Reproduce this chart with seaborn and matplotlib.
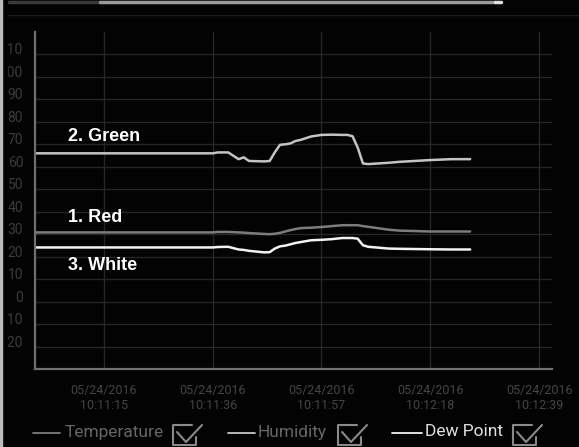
import matplotlib
matplotlib.use("Agg")
import matplotlib.pyplot as plt
import matplotlib.dates as mdates
import matplotlib.transforms as mtransforms
from matplotlib.lines import Line2D
import pandas as pd
import seaborn as sns

# data
day = "2016-05-24 "
times = ["10:11:01.7", "10:11:36", "10:11:37", "10:11:39", "10:11:41", "10:11:42",
         "10:11:43", "10:11:46", "10:11:47", "10:11:48", "10:11:49", "10:11:50",
         "10:11:51", "10:11:52", "10:11:53", "10:11:55", "10:11:57", "10:11:59",
         "10:12:01", "10:12:02", "10:12:03", "10:12:04", "10:12:05", "10:12:06",
         "10:12:10", "10:12:12", "10:12:18", "10:12:22", "10:12:25.7"]
temperature = [30.8, 30.8, 31.0, 31.0, 30.8, 30.7, 30.5, 30.1, 30.0, 30.2, 30.6, 31.2,
               31.8, 32.3, 32.7, 32.9, 33.2, 33.6, 34.0, 34.0, 34.0, 34.0, 33.6, 33.3,
               32.0, 31.6, 31.2, 31.2, 31.2]
humidity = [66, 66, 66.4, 66.4, 63.4, 64.2, 62.6, 62.4, 62.6, 66.5, 69.8, 70,
            70.4, 71.5, 72, 73.5, 74.2, 74.3, 74.2, 74.2, 73.6, 68.5, 61.5, 61.2,
            61.8, 62.2, 63, 63.4, 63.4]
dew_point = [24.1, 24.1, 24.3, 24.4, 23.2, 23.0, 22.6, 21.9, 22.0, 23.6, 24.6, 24.9,
             25.5, 26.1, 26.5, 27.3, 27.5, 27.8, 28.3, 28.3, 28.3, 28.0, 25.1, 24.4,
             23.6, 23.5, 23.3, 23.2, 23.2]
series_names = ["Temperature", "Humidity", "Dew Point"]
series_colors = ["#7c7c7c", "#c4c4c4", "#f2f2f2"]
legend_text_colors = ["#666666", "#666666", "#e0e0e0"]
annotations = ["1. Red", "2. Green", "3. White"]
annotation_y = [37.4, 73.6, 15.9]
tick_times = ["10:11:15", "10:11:36", "10:11:57", "10:12:18", "10:12:39"]
x_range = ["10:11:01.7", "10:12:41.5"]
y_ticks = list(range(-20, 120, 10))


def to_dt(ts):
    return pd.to_datetime([day + t for t in ts], format="mixed")


df = pd.DataFrame({"time": to_dt(times),
                   "Temperature": temperature,
                   "Humidity": humidity,
                   "Dew Point": dew_point})
long_df = df.melt(id_vars="time", var_name="series", value_name="value")

sns.set_theme(style="dark")
plt.rcParams["font.family"] = ["Roboto", "DejaVu Sans"]

W, H = 579, 447
fig = plt.figure(figsize=(W / 100, H / 100), dpi=100, facecolor="#030303")
ax = fig.add_axes([35 / W, 1 - 369 / H, (552 - 35) / W, (369 - 32) / H])
ax.set_facecolor("#030303")

sns.lineplot(data=long_df, x="time", y="value", hue="series", hue_order=series_names,
             palette=dict(zip(series_names, series_colors)), linewidth=1.8,
             legend=False, ax=ax)

xr = to_dt(x_range)
ax.set_xlim(xr[0], xr[1])
ax.set_ylim(-30, 120)
ax.set_xticks(to_dt(tick_times))
ax.xaxis.set_major_formatter(mdates.DateFormatter("%m/%d/%Y\n%H:%M:%S"))
ax.set_yticks(y_ticks)
ax.set_xlabel("")
ax.set_ylabel("")

ax.grid(True, color="#262626", linewidth=1)
for side in ["top", "right"]:
    ax.spines[side].set_visible(False)
for side in ["left", "bottom"]:
    ax.spines[side].set_visible(True)
    ax.spines[side].set_color("#707070")
    ax.spines[side].set_linewidth(1.6)

ax.tick_params(axis="x", length=3, color="#333333", pad=8, labelsize=9, labelcolor="#454545")
ax.tick_params(axis="y", length=0, pad=8.5, labelsize=10, labelcolor="#3c3c3c")
shift = mtransforms.ScaledTranslation(0, 0.055, fig.dpi_scale_trans)
for lab in ax.get_yticklabels():
    lab.set_transform(lab.get_transform() + shift)

# bold labels next to the curves
blend = mtransforms.blended_transform_factory(ax.transAxes, ax.transData)
for txt, yv in zip(annotations, annotation_y):
    ax.text(0.064, yv, txt, transform=blend, color="white", fontsize=13,
            fontweight="bold", family=["Liberation Sans", "DejaVu Sans"], va="center")


def fx(px):
    return px / W


def fy(py):
    return 1 - py / H


# legend with check boxes, drawn like the app's footer
legend_x = [(33, 60, 65, 173), (228, 255, 258, 338), (392, 422, 425, 513)]
for name, lc, tc, (x0, x1, xt, xb) in zip(series_names, series_colors,
                                          legend_text_colors, legend_x):
    fig.add_artist(Line2D([fx(x0), fx(x1)], [fy(433), fy(433)], color=lc, lw=1.3))
    fig.text(fx(xt), fy(432), name, color=tc, fontsize=12.5, va="center")
    fig.add_artist(Line2D([fx(xb + 19), fx(xb), fx(xb), fx(xb + 23), fx(xb + 23)],
                          [fy(425), fy(425), fy(445), fy(445), fy(437)],
                          color="#8a8a8a", lw=1.5))
    fig.add_artist(Line2D([fx(xb + 4), fx(xb + 13), fx(xb + 29)],
                          [fy(432), fy(442), fy(425)], color="#8a8a8a", lw=1.5))

# window chrome at the top and left edge
fig.add_artist(Line2D([0, fx(100)], [fy(1.5), fy(1.5)], color="#3a3a3a", lw=2.5))
fig.add_artist(Line2D([fx(100), fx(495)], [fy(1.5), fy(1.5)], color="#9a9a9a", lw=2.5))
fig.add_artist(Line2D([fx(495), fx(501)], [fy(1.5), fy(1.5)], color="#e0e0e0", lw=2.5))
fig.add_artist(Line2D([0, 1], [fy(15), fy(15)], color="#1c1c1c", lw=1))
fig.add_artist(plt.Rectangle((0, 0), fx(6.5), 1, color="#030303", zorder=10))
fig.add_artist(plt.Rectangle((0, 0), fx(2), 1, color="#bdbdbd", zorder=11))

fig.savefig("out.png", dpi=100, facecolor=fig.get_facecolor())
